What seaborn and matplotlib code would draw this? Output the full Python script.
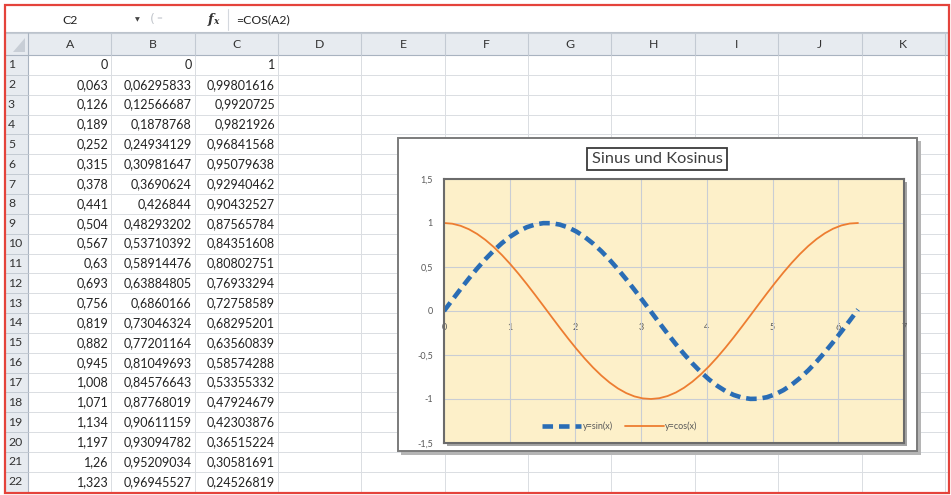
import matplotlib
matplotlib.use("Agg")
import matplotlib.pyplot as plt
import seaborn as sns
import pandas as pd
from matplotlib.patches import Rectangle, Polygon

# ---------------- worksheet contents ----------------
COLUMNS = ["A", "B", "C", "D", "E", "F", "G", "H", "I", "J", "K"]
COL_A = [0, 0.063, 0.126, 0.189, 0.252, 0.315, 0.378, 0.441, 0.504, 0.567, 0.63,
         0.693, 0.756, 0.819, 0.882, 0.945, 1.008, 1.071, 1.134, 1.197, 1.26, 1.323]
COL_B = [0, 0.06295833, 0.12566687, 0.1878768, 0.24934129, 0.30981647, 0.3690624,
         0.426844, 0.48293202, 0.53710392, 0.58914476, 0.63884805, 0.6860166,
         0.73046324, 0.77201164, 0.81049693, 0.84576643, 0.87768019, 0.90611159,
         0.93094782, 0.95209034, 0.96945527]
COL_C = [1, 0.99801616, 0.9920725, 0.9821926, 0.96841568, 0.95079638, 0.92940462,
         0.90432527, 0.87565784, 0.84351608, 0.80802751, 0.76933294, 0.72758589,
         0.68295201, 0.63560839, 0.58574288, 0.53355332, 0.47924679, 0.42303876,
         0.36515224, 0.30581691, 0.24526819]
CELL_REF = "C2"
FORMULA = "=COS(A2)"

# ---------------- chart series ----------------
CURVE_X = [0.0, 0.126, 0.252, 0.378, 0.504, 0.63, 0.756, 0.882, 1.008, 1.134, 1.26,
           1.386, 1.512, 1.638, 1.764, 1.89, 2.016, 2.142, 2.268, 2.394, 2.52,
           2.646, 2.772, 2.898, 3.024, 3.15, 3.276, 3.402, 3.528, 3.654, 3.78,
           3.906, 4.032, 4.158, 4.284, 4.41, 4.536, 4.662, 4.788, 4.914, 5.04,
           5.166, 5.292, 5.418, 5.544, 5.67, 5.796, 5.922, 6.048, 6.174, 6.3]
CURVE_SIN = [0.0, 0.1257, 0.2493, 0.3691, 0.4829, 0.5891, 0.6860, 0.7720, 0.8458,
             0.9061, 0.9521, 0.9830, 0.9983, 0.9977, 0.9814, 0.9495, 0.9025, 0.8413,
             0.7666, 0.6799, 0.5823, 0.4756, 0.3612, 0.2412, 0.1173, -0.0084,
             -0.1340, -0.2575, -0.3769, -0.4903, -0.5959, -0.6921, -0.7773, -0.8502,
             -0.9096, -0.9546, -0.9845, -0.9987, -0.9971, -0.9797, -0.9468, -0.8989,
             -0.8367, -0.7612, -0.6737, -0.5755, -0.4682, -0.3534, -0.2330, -0.1090,
             0.0168]
CURVE_COS = [1.0, 0.9921, 0.9684, 0.9294, 0.8757, 0.8080, 0.7276, 0.6356, 0.5336,
             0.4230, 0.3058, 0.1837, 0.0588, -0.0671, -0.1920, -0.3138, -0.4307,
             -0.5406, -0.6421, -0.7333, -0.8130, -0.8797, -0.9325, -0.9705, -0.9931,
             -1.0000, -0.9910, -0.9663, -0.9263, -0.8716, -0.8030, -0.7218, -0.6291,
             -0.5264, -0.4154, -0.2978, -0.1755, -0.0504, 0.0755, 0.2002, 0.3218,
             0.4382, 0.5477, 0.6485, 0.7390, 0.8178, 0.8837, 0.9355, 0.9725, 0.9940,
             0.9999]
SERIES = ["y=sin(x)", "y=cos(x)"]
TITLE = "Sinus und Kosinus"
X_TICKS = [0, 1, 2, 3, 4, 5, 6, 7]
Y_TICKS = [-1.5, -1, -0.5, 0, 0.5, 1, 1.5]


def de_number(v):
    """Format a number the way the German sheet shows it (decimal comma)."""
    s = f"{v:.8f}".rstrip("0").rstrip(".")
    return s.replace(".", ",")


sns.set_style("white")
plt.rcParams["font.family"] = ["Lato", "DejaVu Sans"]

W, H = 951, 495
fig = plt.figure(figsize=(W / 100, H / 100), dpi=100)
sheet = fig.add_axes([0, 0, 1, 1])
sheet.set_xlim(0, W)
sheet.set_ylim(H, 0)
sheet.axis("off")

TXT = "#222222"
HEAD_BG = "#e7ebf0"
GRID = "#dadde2"
HEAD_LINE = "#c3cad3"

# formula bar
sheet.add_patch(Rectangle((5, 5), 944, 27, fc="white", ec="none", zorder=0))
sheet.plot([5, 949], [31.5, 31.5], color="#bcc3cc", lw=0.8, zorder=1)
sheet.plot([228, 228], [9, 30], color="#d4d8de", lw=0.8, zorder=1)
sheet.text(70, 20, CELL_REF, ha="center", va="center", fontsize=8.8, color=TXT)
sheet.text(137, 20, "\u25BC", ha="center", va="center", fontsize=4.5, color="#444444",
           family="DejaVu Sans")
sheet.text(152, 19, "(", ha="center", va="center", fontsize=9, color="#c2c6cc",
           family="DejaVu Sans")
sheet.text(159, 18, "=", ha="center", va="center", fontsize=5, color="#c2c6cc",
           family="DejaVu Sans")
sheet.text(211, 19, "f", ha="center", va="center", fontsize=9.5, color="#333333",
           family="DejaVu Serif", style="italic", weight="bold")
sheet.text(216, 22, "x", ha="center", va="center", fontsize=6.5, color="#333333",
           family="DejaVu Serif", style="italic", weight="bold")
sheet.text(236, 20, FORMULA, ha="left", va="center", fontsize=8.8, color=TXT)

# column header band
col_left = 28.0
col_w = 83.35
row_top = 55.0
row_h = 19.85
n_rows = len(COL_A)
sheet.add_patch(Rectangle((5, 33), 944, row_top - 33, fc=HEAD_BG, ec="none", zorder=1))
sheet.add_patch(Rectangle((5, row_top), col_left - 5, 493 - row_top, fc=HEAD_BG,
                          ec="none", zorder=1))
sheet.add_patch(Polygon([[25, 38], [25, 52], [13, 52]], closed=True, fc="#c8ced6",
                        ec="none", zorder=2))
sheet.plot([5, 949], [33, 33], color=HEAD_LINE, lw=0.8, zorder=2)
sheet.plot([5, 949], [row_top, row_top], color="#a9b3c0", lw=0.8, zorder=2)
sheet.plot([col_left, col_left], [33, 493], color="#a9b3c0", lw=0.8, zorder=2)

for i, name in enumerate(COLUMNS):
    x0 = col_left + i * col_w
    x1 = x0 + col_w
    sheet.plot([x1, x1], [33, row_top], color=HEAD_LINE, lw=0.8, zorder=2)
    sheet.plot([x1, x1], [row_top, 493], color=GRID, lw=0.7, zorder=1)
    sheet.text((x0 + x1) / 2, 44, name, ha="center", va="center", fontsize=8.8,
               color="#333333", zorder=3)

for r in range(n_rows):
    y0 = row_top + r * row_h
    y1 = y0 + row_h
    yc = (y0 + y1) / 2
    sheet.plot([col_left, 949], [y1, y1], color=GRID, lw=0.7, zorder=1)
    sheet.plot([5, col_left], [y1, y1], color=HEAD_LINE, lw=0.7, zorder=2)
    sheet.text(8, yc, str(r + 1), ha="left", va="center", fontsize=8.8,
               color="#333333", zorder=3)
    for c, values in enumerate([COL_A, COL_B, COL_C]):
        xr = col_left + (c + 1) * col_w - 3
        sheet.text(xr, yc, de_number(values[r]), ha="right", va="center",
                   fontsize=9.0, color=TXT, zorder=3)

# red frame around the window
sheet.add_patch(Rectangle((4.5, 4.5), 944.5, 488.5, fc="none", ec="#e4433b",
                          lw=1.6, zorder=10))

# embedded chart: shadow, white chart area, plot-area shadow
sheet.add_patch(Rectangle((401, 141), 520, 314, fc="#b5b5b5", ec="none", zorder=4))
sheet.add_patch(Rectangle((398, 138), 519, 313, fc="white", ec="#7b7b7b", lw=1.4,
                          zorder=5))
sheet.add_patch(Rectangle((447, 182), 460, 264, fc="#a4a4a4", ec="none", zorder=6))

# ---------------- chart ----------------
BLUE = "#2a6db5"
ORANGE = "#ed7d31"
LABEL_GREY = "#595959"

ax = fig.add_axes([444 / W, (H - 443) / H, 460 / W, 264 / H])
ax.set_facecolor("#fdf0c9")

sns.lineplot(x=CURVE_X, y=CURVE_SIN, ax=ax, color=BLUE, linewidth=3.3,
             label=SERIES[0], sort=False, linestyle=(0, (2.3, 1.3)),
             dash_capstyle="butt")
sns.lineplot(x=CURVE_X, y=CURVE_COS, ax=ax, color=ORANGE, linewidth=1.3,
             label=SERIES[1], sort=False)

ax.set_xlim(0, 7)
ax.set_ylim(-1.5, 1.5)
ax.set_xticks(X_TICKS)
ax.set_yticks(Y_TICKS, labels=[de_number(v) for v in Y_TICKS])
ax.tick_params(axis="x", length=0, labelbottom=False)
ax.tick_params(axis="y", length=0, pad=8, labelsize=6.5, labelcolor=LABEL_GREY)
ax.grid(True, color="#c9cdd4", linewidth=0.8)
ax.set_xlabel("")
ax.set_ylabel("")
for sp in ax.spines.values():
    sp.set_visible(True)
    sp.set_color("#6b6b6b")
    sp.set_linewidth(1.5)

# x labels sit below the horizontal axis through y = 0
xaxis0 = ax.secondary_xaxis(0.5)
xaxis0.set_xticks(X_TICKS, labels=[de_number(v) for v in X_TICKS])
xaxis0.xaxis.set_ticks_position("bottom")
xaxis0.tick_params(length=0, pad=9, labelsize=6.5, labelcolor=LABEL_GREY,
                   labelbottom=True, labeltop=False)
for sp in xaxis0.spines.values():
    sp.set_visible(False)

leg = ax.legend(loc="center", bbox_to_anchor=(620 / W, 1 - 426 / H),
                bbox_transform=fig.transFigure, ncol=2, frameon=False,
                fontsize=6.5, handlelength=4.3, handletextpad=0.2,
                columnspacing=1.3, labelcolor=LABEL_GREY)

fig.text(657 / W, 1 - 159 / H, TITLE, ha="center", va="center", fontsize=11.8,
         color="#404040",
         bbox=dict(boxstyle="square,pad=0.25", fc="white", ec="#3a3a3a", lw=1.3))

fig.savefig("out.png", dpi=100)
